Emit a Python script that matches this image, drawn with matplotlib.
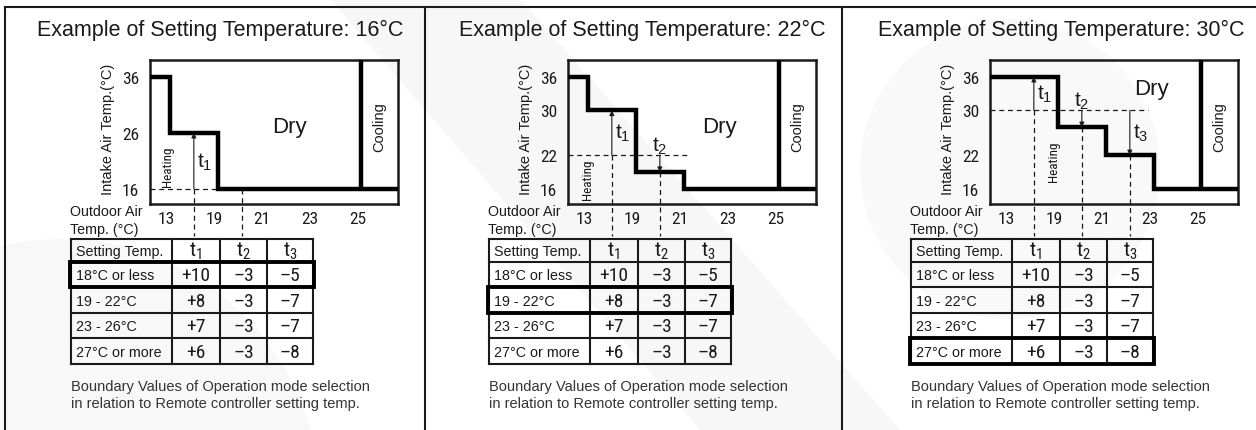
import numpy as np
import matplotlib
matplotlib.use("Agg")
import matplotlib.pyplot as plt
from matplotlib import font_manager
from matplotlib.font_manager import FontProperties
from matplotlib.patches import Rectangle

# ---- data ----
set_temps = [16, 22, 30]
x_ticks = ["13", "19", "21", "23", "25"]
y_ticks = [[36, 26, 16], [36, 30, 22, 16], [36, 30, 22, 16]]
row_names = ["18°C or less", "19 - 22°C", "23 - 26°C", "27°C or more"]
t1_vals = [10, 8, 7, 6]
t2_vals = [-3, -3, -3, -3]
t3_vals = [-5, -7, -7, -8]
active_row = [0, 1, 3]
n_marks = [2, 2, 3]
t_min, t_max = 16, 36


def pick_font(names):
    for n in names:
        try:
            font_manager.findfont(n, fallback_to_default=False)
            return n
        except ValueError:
            pass
    return "DejaVu Sans"


def narrow_props():
    # look for any condensed / narrow sans face that is installed
    wanted = ["Liberation Sans Narrow", "Arial Narrow", "Roboto Condensed",
              "Open Sans Condensed", "Noto Sans Condensed", "DejaVu Sans"]
    faces = font_manager.fontManager.ttflist
    for w in wanted:
        for f in faces:
            if f.name == w and f.weight in (400, "normal", "regular") \
                    and f.style == "normal":
                narrow = ("Narrow" in f.name or "Condensed" in f.name
                          or "ondensed" in f.fname)
                if w == "DejaVu Sans" and "Condensed" not in f.fname:
                    continue
                if narrow or w != "DejaVu Sans":
                    return FontProperties(fname=f.fname)
    for f in faces:
        if ("Condensed" in f.fname or "Narrow" in f.fname) and \
                "Bold" not in f.fname and "Italic" not in f.fname \
                and "Oblique" not in f.fname and "Mono" not in f.fname:
            return FontProperties(fname=f.fname)
    return FontProperties(family="Liberation Sans")


SANS = pick_font(["Liberation Sans", "Arial", "DejaVu Sans"])
NARROW = narrow_props()
plt.rcParams["font.family"] = SANS
INK = "#1a1a1a"


def nprop(size):
    fp = NARROW.copy()
    fp.set_size(size)
    return fp


# ---- layout (pixels) ----
W, H = 1256, 431
offsets = [0, 418, 840]
title_cx = [220, 642, 1061]
box_l, box_r, box_t, box_b = 150, 398, 61, 205
step_edges = [0.08, 1.08, 2.08, 3.08]
cool_x = 4.07
dash_end = [1.08, 2.2, 2.96]
heat_pos = [(0.04, 20.1), (0.08, 17.8), (0.98, 21.0)]
dry_pos = [(2.58, 27.2), (2.83, 27.2), (3.04, 33.9)]
tab_x = [71, 172, 220, 267, 313]
tab_y = [239.5, 263, 288, 313.5, 338.5, 365]
XLIM = (-16 / 48, 232 / 48)
YLIM = (13.3, 39.0)

fig = plt.figure(figsize=(W / 100, H / 100), dpi=100)
bg = fig.add_axes([0, 0, 1, 1])
bg.set_xlim(0, W)
bg.set_ylim(H, 0)
bg.axis("off")

# faint background shapes
bg.add_patch(plt.Polygon([[330, 0], [520, 0], [900, 431], [700, 431]],
                         color="#f7f7f7", lw=0, zorder=0))
bg.add_patch(plt.Circle((60, 500), 260, color="#f8f8f8", lw=0, zorder=0))
bg.add_patch(plt.Circle((1010, 170), 150, color="#f9f9f9", lw=0, zorder=0))

# panel frames
bg.plot([5, W], [8, 8], color=INK, lw=1.5)
for xv in [5, 425, 842]:
    bg.plot([xv, xv], [8, H], color=INK, lw=1.5)

tsub = [r"$\mathregular{t_1}$", r"$\mathregular{t_2}$", r"$\mathregular{t_3}$"]

for p, off in enumerate(offsets):
    s = set_temps[p]
    r = active_row[p]
    ts = [t1_vals[r], t2_vals[r], t3_vals[r]]
    levels = [t_max] + [min(max(s + t, t_min), t_max) for t in ts] + [t_min]

    bg.text(title_cx[p], 30, f"Example of Setting Temperature: {s}°C",
            fontsize=15.5, ha="center", va="center", color=INK)

    ax = fig.add_axes([(box_l + off) / W, 1 - box_b / H,
                       (box_r - box_l) / W, (box_b - box_t) / H])
    ax.set_facecolor("none")
    ax.set_xlim(*XLIM)
    ax.set_ylim(*YLIM)
    for sp in ax.spines.values():
        sp.set_linewidth(1.8)
        sp.set_color(INK)
    ax.set_xticks(range(len(x_ticks)))
    ax.set_xticklabels(x_ticks, fontproperties=nprop(12.5), color=INK)
    ax.set_yticks(y_ticks[p])
    ax.set_yticklabels([str(v) for v in y_ticks[p]],
                       fontproperties=nprop(12.5), color=INK)
    ax.tick_params(axis="x", length=0, pad=5)
    ax.tick_params(axis="y", length=0, pad=8)

    # mode boundary: steps from setting temp + t offsets
    edges = [XLIM[0]] + step_edges + [XLIM[1]]
    ax.stairs(levels, edges, baseline=None, color="black", lw=3.2, zorder=4)
    ax.plot([cool_x, cool_x], [t_min, YLIM[1]], color="black", lw=3.2,
            solid_capstyle="butt", zorder=4)

    ax.plot([XLIM[0], dash_end[p]], [s, s], color=INK, lw=0.9,
            dashes=(4, 3), zorder=3)

    for i in range(n_marks[p]):
        xm = i + 0.58
        lv = levels[i + 1]
        ax.plot([xm, xm], [min(s, lv), 7.6], color=INK, lw=0.9,
                dashes=(4, 3), clip_on=False, zorder=3)
        if lv != s:
            ax.annotate("", xy=(xm, lv), xytext=(xm, s),
                        arrowprops=dict(arrowstyle="-|>", lw=0.8, color=INK,
                                        mutation_scale=7, shrinkA=0,
                                        shrinkB=0), zorder=5)
            if abs(lv - s) < 5:
                lx, ly = xm, s + 1.8
                ha = "center"
            else:
                lx, ly = xm + 0.06, (lv + s) / 2
                ha = "left"
            ax.text(lx, ly, tsub[i], fontsize=15, ha=ha, va="center",
                    color=INK)

    ax.text(*heat_pos[p], "Heating", rotation=90, fontproperties=nprop(9.5),
            ha="center", va="center", color=INK)
    ax.text(*dry_pos[p], "Dry", fontsize=16, ha="center", va="center",
            color=INK)
    ax.text((cool_x + XLIM[1]) / 2, 27.2, "Cooling", rotation=90,
            fontsize=10.5, ha="center", va="center", color=INK)

    bg.text(108 + off, 129, "Intake Air Temp.(°C)", rotation=90,
            fontsize=10.5, ha="center", va="center", color=INK)
    bg.text(70 + off, 212, "Outdoor Air", fontsize=10.3, ha="left",
            va="center", color=INK)
    bg.text(70 + off, 230, "Temp. (°C)", fontsize=10.3, ha="left",
            va="center", color=INK)

    # boundary table
    tx = [x + off for x in tab_x]
    for xv in tx:
        bg.plot([xv, xv], [tab_y[0], tab_y[-1]], color=INK, lw=1.5)
    for yv in tab_y:
        bg.plot([tx[0], tx[-1]], [yv, yv], color=INK, lw=1.5)
    bg.add_patch(Rectangle((tx[0] - 1, tab_y[r + 1]), tx[-1] - tx[0] + 2,
                           tab_y[r + 2] - tab_y[r + 1], fill=False,
                           lw=2.8, ec="black", zorder=5))

    def cell_y(k):
        return (tab_y[k] + tab_y[k + 1]) / 2 + 1

    bg.text(tx[0] + 5, cell_y(0), "Setting Temp.", fontsize=10.3,
            ha="left", va="center", color=INK)
    for j in range(3):
        bg.text((tx[j + 1] + tx[j + 2]) / 2, cell_y(0) - 1, tsub[j],
                fontproperties=nprop(15), ha="center", va="center",
                color=INK)
    for k, name in enumerate(row_names):
        bg.text(tx[0] + 5, cell_y(k + 1), name, fontsize=10.3, ha="left",
                va="center", color=INK)
        vals = [t1_vals[k], t2_vals[k], t3_vals[k]]
        for j, v in enumerate(vals):
            bg.text((tx[j + 1] + tx[j + 2]) / 2, cell_y(k + 1),
                    f"{v:+d}".replace("-", "–"), fontproperties=nprop(14),
                    ha="center", va="center", color=INK)

    bg.text(tx[0], 387, "Boundary Values of Operation mode selection",
            fontsize=10.5, ha="left", va="center", color="#333333")
    bg.text(tx[0], 404, "in relation to Remote controller setting temp.",
            fontsize=10.5, ha="left", va="center", color="#333333")

fig.savefig("out.png", dpi=100)
